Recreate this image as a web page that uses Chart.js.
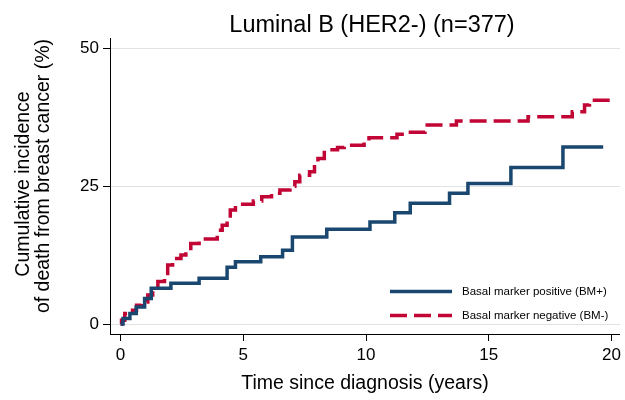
<!DOCTYPE html>
<html>
<head>
<meta charset="utf-8">
<script src="https://cdn.jsdelivr.net/npm/chart.js@4/dist/chart.umd.min.js"></script>
<style>
  html, body { margin: 0; padding: 0; background: #fff; }
  #wrap { width: 625px; height: 400px; position: relative; }
</style>
</head>
<body>
<div id="wrap"><canvas id="km"></canvas></div>
<script>
// years since diagnosis / cumulative incidence (%) at each step
const bmPosTime = [0, 0.1, 0.38, 0.64, 0.98, 1.25, 2.05, 3.2, 4.34, 4.68, 5.71, 6.6, 7.0, 8.4, 10.16, 11.17, 11.8, 13.4, 14.15, 15.9, 18.02, 19.66];
const bmPosInc  = [0, 1.0, 1.9, 3.1, 4.65, 6.5, 7.4, 8.3, 10.3, 11.3, 12.2, 13.4, 15.8, 17.2, 18.5, 20.2, 21.9, 23.7, 25.5, 28.4, 32.1, 32.1];

const bmNegTime = [0, 0.04, 0.17, 0.38, 0.65, 0.85, 1.11, 1.31, 1.52, 1.79, 1.92, 2.12, 2.46, 2.66, 2.86, 3.2, 3.94, 4.14, 4.34, 4.47, 4.68, 5.41, 5.75, 6.15, 6.49, 6.9, 7.1, 7.3, 7.7, 7.9, 8.04, 8.3, 8.84, 9.11, 9.92, 10.12, 11.26, 11.73, 12.4, 13.68, 16.6, 18.4, 18.9, 19.1, 20.0];
const bmNegInc  = [0, 0.7, 1.9, 2.5, 3.4, 4.0, 5.25, 6.2, 7.7, 8.6, 10.7, 11.9, 12.5, 13.7, 14.6, 15.4, 17.0, 17.9, 19.1, 20.7, 21.7, 22.3, 23.1, 23.7, 24.3, 25.0, 25.8, 27.0, 27.6, 29.1, 30.0, 31.6, 32.0, 32.4, 33.0, 33.8, 34.4, 34.8, 36.1, 36.8, 37.6, 38.5, 39.7, 40.6, 40.6];

const xTicks = [0, 5, 10, 15, 20];
const yTicks = [0, 25, 50];

const seriesLabels = ["Basal marker positive (BM+)", "Basal marker negative (BM-)"];
const titleText = "Luminal B (HER2-) (n=377)";
const yTitleLines = ["Cumulative incidence", "of death from breast cancer (%)"];

const BLUE = "#1a476f";
const RED = "#c10534";
const FONT = "'Liberation Sans', Arial, sans-serif";

const toPoints = (ts, vs) => ts.map((t, i) => ({ x: t, y: vs[i] }));

// Title, y-axis title and in-plot legend, Stata style
const decorations = {
	id: "decorations",
	afterDraw(chart) {
		const ctx = chart.ctx;
		ctx.save();
		ctx.fillStyle = "#000";
		ctx.font = "23.5px " + FONT;
		ctx.textAlign = "center";
		ctx.textBaseline = "alphabetic";
		ctx.fillText(titleText, 372, 32);

		// y title, two lines rotated
		ctx.font = "19.5px " + FONT;
		ctx.textBaseline = "middle";
		[[24, 184], [44, 176]].forEach(([x, y], i) => {
			ctx.save();
			ctx.translate(x, y);
			ctx.rotate(-Math.PI / 2);
			ctx.fillText(yTitleLines[i], 0, 0);
			ctx.restore();
		});

		const rows = [
			{ label: seriesLabels[0], color: BLUE, dash: [] },
			{ label: seriesLabels[1], color: RED, dash: [17, 7] },
		];
		ctx.font = "11.5px " + FONT;
		rows.forEach((r, i) => {
			const y = 291.5 + i * 24;
			ctx.beginPath();
			ctx.strokeStyle = r.color;
			ctx.lineWidth = 3.5;
			ctx.setLineDash(r.dash);
			ctx.moveTo(390, y);
			ctx.lineTo(452, y);
			ctx.stroke();
			ctx.setLineDash([]);
			ctx.textAlign = "left";
			ctx.textBaseline = "middle";
			ctx.fillText(r.label, 462, y);
		});
		ctx.restore();
	},
};

new Chart(document.getElementById("km"), {
	type: "line",
	data: {
		datasets: [
			{
				label: seriesLabels[0],
				data: toPoints(bmPosTime, bmPosInc),
				borderColor: BLUE,
				borderWidth: 3.5,
				stepped: true,
				pointRadius: 0,
				fill: false,
			},
			{
				label: seriesLabels[1],
				data: toPoints(bmNegTime, bmNegInc),
				borderColor: RED,
				borderWidth: 3.5,
				borderDash: [17, 7],
				stepped: true,
				pointRadius: 0,
				fill: false,
			},
		],
	},
	options: {
		responsive: true,
		maintainAspectRatio: false,
		animation: false,
		layout: { padding: { top: 38, right: 0, left: 0, bottom: 0 } },
		plugins: {
			legend: { display: false },
			title: { display: false },
			tooltip: { enabled: false },
		},
		scales: {
			x: {
				type: "linear",
				min: -0.43,
				max: 20.34,
				afterBuildTicks: (s) => { s.ticks = xTicks.map((v) => ({ value: v })); },
				afterFit: (s) => { s.height = 66; },
				grid: { drawOnChartArea: false, tickLength: 7, tickColor: "#000" },
				border: { color: "#000", width: 1 },
				ticks: { color: "#000", font: { family: FONT, size: 17 }, padding: 4, maxRotation: 0 },
				title: {
					display: true,
					text: "Time since diagnosis (years)",
					color: "#000",
					font: { family: FONT, size: 19.5 },
					padding: { top: 4, bottom: 5 },
				},
			},
			y: {
				min: -1.81,
				max: 51.87,
				afterBuildTicks: (s) => { s.ticks = yTicks.map((v) => ({ value: v })); },
				afterFit: (s) => { s.width = 110; },
				grid: { color: "#e2e2e2", lineWidth: 1, tickLength: 7, tickColor: "#000" },
				border: { color: "#000", width: 1 },
				ticks: { color: "#000", font: { family: FONT, size: 17 }, padding: 4 },
			},
		},
	},
	plugins: [decorations],
});
</script>
</body>
</html>
